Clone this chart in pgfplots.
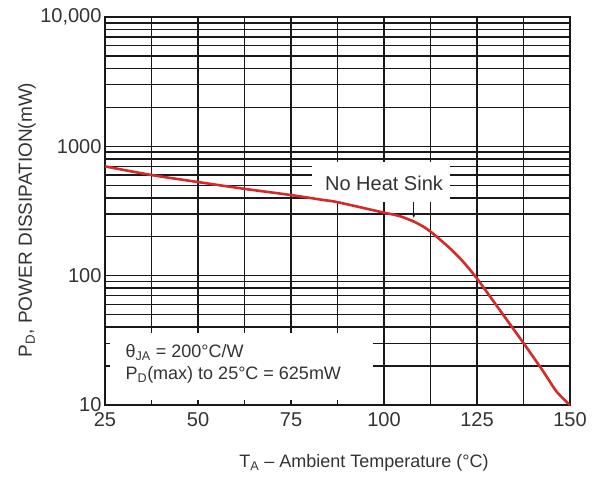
\documentclass[border=0pt]{standalone}
\usepackage{fontspec}
\setmainfont{Liberation Sans}
\usepackage{pgfplots}
\pgfplotsset{compat=1.18}
\usetikzlibrary{arrows.meta}
\definecolor{curvered}{RGB}{212,42,42}
\definecolor{gridc}{RGB}{25,25,25}
\pgfplotsset{
  layers/mylayers/.define layer set={axis background,axis grid,pre main,axis ticks,axis lines,axis tick labels,main,axis descriptions,axis foreground}{
    grid style={/pgfplots/on layer=axis grid},
    tick style={/pgfplots/on layer=axis ticks},
    axis line style={/pgfplots/on layer=axis lines},
    label style={/pgfplots/on layer=axis descriptions},
    legend style={/pgfplots/on layer=axis descriptions},
    title style={/pgfplots/on layer=axis descriptions},
    ticklabel style={/pgfplots/on layer=axis tick labels},
  },
}
\begin{document}
\begin{tikzpicture}
\path (0,0) rectangle (604pt,479pt);
\begin{axis}[
  set layers=mylayers,
  at={(105pt,74pt)}, anchor=south west,
  width=465pt, height=388pt, scale only axis,
  xmin=25, xmax=150, ymin=10, ymax=10000, ymode=log,
  xtick={25,50,75,100,125,150},
  minor xtick={37.5,62.5,87.5,112.5,137.5},
  ytick={10,100,1000,10000},
  yticklabels={10,100,1000,{10,000}},
  minor ytick={20,30,40,50,60,70,80,90,200,300,400,500,600,700,800,900,2000,3000,4000,5000,6000,7000,8000,9000},
  grid=both,
  major grid style={gridc, line width=1.6pt},
  minor grid style={gridc, line width=1.5pt},
  axis line style={gridc, line width=1.6pt},
  tick style={gridc, line width=1.4pt},
  major tick length=5pt, minor tick length=5pt,
  tick align=inside,
  /pgf/number format/assume math mode=true,
  ticklabel style={font=\fontsize{20}{24}\selectfont, text=black!80},
  xticklabel style={yshift=-4pt},
  xlabel={T\textsubscript{A} -- Ambient Temperature (°C)},
  ylabel={P\textsubscript{D}, POWER DISSIPATION(mW)},
  xlabel style={at={(axis description cs:0.557,-0.149)}, anchor=center, font=\fontsize{18}{22}\selectfont, text=black!80},
  ylabel style={at={(axis description cs:-0.168,0.477)}, anchor=center, font=\fontsize{19}{22}\selectfont, text=black!80},
]
\begin{pgfonlayer}{pre main}
\fill[white] (axis cs:25,10) rectangle (axis cs:97,36);
\fill[white] (axis cs:80.6,370) rectangle (axis cs:117.7,750);
\end{pgfonlayer}
\addplot[curvered, line width=2.6pt, smooth, tension=0.5, no marks] coordinates {
(25,700) (37.5,600) (50.5,527) (62.5,469) (75,420) (83.6,385) (87.5,370)
(100,307) (104,290) (108,262) (111,235) (113.3,210) (116,180) (118,160)
(121.3,128) (125,95) (128.5,69) (133.9,42) (137.9,29) (142.8,18.2) (146.4,12.7) (150,10)
};
\draw[gridc, line width=0.8pt, -{Stealth[length=5pt,width=4pt]}] (axis cs:108,370) -- (axis cs:108,280);
\node[font=\fontsize{20}{24}\selectfont, text=black!80] at (axis cs:100,520) {No Heat Sink};
\node[anchor=west, font=\fontsize{18}{22}\selectfont, text=black!80] at (axis cs:29.6,25.4) {θ\textsubscript{JA} = 200°C/W};
\node[anchor=west, font=\fontsize{18}{22}\selectfont, text=black!80] at (axis cs:29.6,17.1) {P\textsubscript{D}(max) to 25°C = 625mW};
\end{axis}
\end{tikzpicture}
\end{document}
